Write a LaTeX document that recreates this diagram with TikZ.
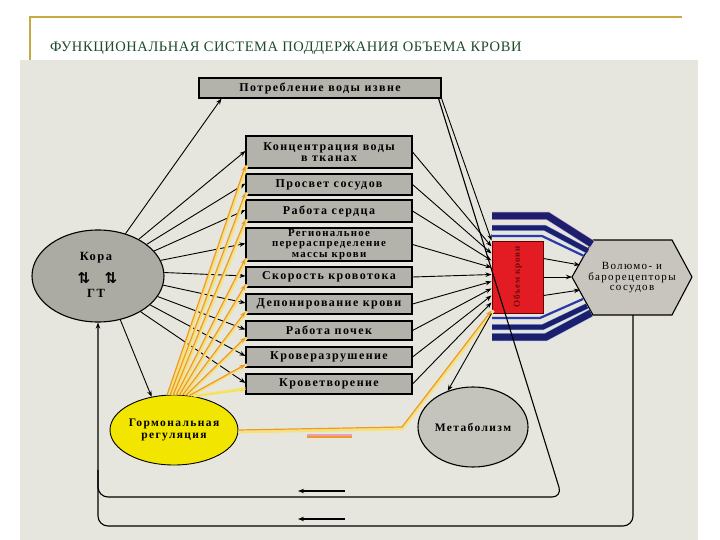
\documentclass[tikz,border=0pt]{standalone}
\usepackage{fontspec}
\setmainfont{Liberation Serif}
\newfontfamily\boxfont{Liberation Serif}[LetterSpace=12]
\newfontfamily\redfont{Liberation Serif}[LetterSpace=10]
\newfontfamily\titlefont{Liberation Serif}[LetterSpace=4]
\newfontfamily\symfont{DejaVu Sans}
\usetikzlibrary{shapes.geometric,arrows.meta,calc}
\definecolor{panel}{HTML}{E6E6DE}
\definecolor{boxgray}{HTML}{B3B3AB}
\definecolor{koragray}{HTML}{ABABA3}
\definecolor{metgray}{HTML}{C4C4BC}
\definecolor{hexgray}{HTML}{C7C5BD}
\definecolor{yelfill}{HTML}{F2E600}
\definecolor{redfill}{HTML}{E31B23}
\definecolor{darkred}{HTML}{6A0A0E}
\definecolor{navy}{HTML}{1C1F6E}
\definecolor{lblue}{HTML}{8FB4E4}
\definecolor{midblue}{HTML}{2A3AA8}
\definecolor{pinkish}{HTML}{E8A0B8}
\definecolor{orangeline}{HTML}{EE9A2A}
\definecolor{paleyel}{HTML}{F6E27A}
\definecolor{titlegreen}{HTML}{1F4A2C}
\definecolor{gold}{HTML}{C8A843}
\tikzset{
  box/.style={draw=black, line width=1.1pt, fill=boxgray, minimum width=166pt, inner sep=0pt, align=center, font=\boxfont\bfseries\fontsize{12}{10.5}\selectfont},
  arr/.style={-{Stealth[length=6pt,width=4.5pt]}, line width=0.9pt},
  org/.style={-{Stealth[length=6pt,width=4.5pt]}, line width=1.2pt, draw=orangeline, color=orangeline},
  orgback/.style={line width=2.8pt, draw=paleyel},
  band/.style={draw=navy, line cap=butt},
}
\begin{document}
\begin{tikzpicture}[x=1pt,y=-1pt]
\useasboundingbox (0,0) rectangle (720,540);
\fill[white] (0,0) rectangle (720,540);
\draw[gold, line width=1.5pt] (30,60) -- (30,17) -- (682,17);
\node[anchor=base west, text=titlegreen, font=\titlefont\fontsize{14.5}{14.5}\selectfont, inner sep=0pt] (title) at (50,52) {ФУНКЦИОНАЛЬНАЯ СИСТЕМА ПОДДЕРЖАНИЯ ОБЪЕМА КРОВИ};
\fill[panel] (20,60) rectangle (698,540);

% boxes
\node[box, minimum width=242pt, minimum height=20pt] (potr) at (320,88) {Потребление воды извне};
\node[box, minimum height=32pt] (conc) at (329,152) {Концентрация воды\\в тканах};
\node[box, minimum height=21pt] (prosv) at (329,184.5) {Просвет сосудов};
\node[box, minimum height=22pt] (serd) at (329,211) {Работа сердца};
\node[box, minimum height=33pt, font=\boxfont\bfseries\fontsize{10.8}{10.3}\selectfont] (reg) at (329,244.5) {Региональное\\перераспределение\\массы крови};
\node[box, minimum height=20pt] (skor) at (329,277) {Скорость кровотока};
\node[box, minimum height=20pt] (depo) at (329,304) {Депонирование крови};
\node[box, minimum height=19pt] (poch) at (329,330.5) {Работа почек};
\node[box, minimum height=20pt] (razr) at (329,357) {Кроверазрушение};
\node[box, minimum height=20pt] (tvor) at (329,384) {Кроветворение};

% Kora
\node[ellipse, draw=black, line width=1.1pt, fill=koragray, minimum width=132pt, minimum height=92pt, inner sep=0pt] (kora) at (98,276) {};
\node[font=\boxfont\bfseries\fontsize{12.5}{12}\selectfont] (kt1) at (96,258) {Кора};
\node[font=\symfont\bfseries\fontsize{15}{15}\selectfont] (kt2) at (84,278) {⇅};
\node[font=\symfont\bfseries\fontsize{15}{15}\selectfont] (kt3) at (111,278) {⇅};
\node[font=\boxfont\bfseries\fontsize{12.5}{12}\selectfont] (kt4) at (96,293) {ГТ};

% Hormonal regulation
\node[ellipse, draw=black, line width=0.9pt, fill=yelfill, minimum width=114pt, minimum height=70pt, inner sep=0pt, align=center, font=\boxfont\bfseries\fontsize{11.5}{12.5}\selectfont] (yel) at (174,430) {Гормональная\\регуляция};

% Metabolism
\node[ellipse, draw=black, line width=1.1pt, fill=metgray, minimum width=110pt, minimum height=80pt, inner sep=0pt, font=\boxfont\bfseries\fontsize{11.5}{10}\selectfont] (met) at (473,427) {Метаболизм};

% Hexagon
\coordinate (hL) at (572,277);
\coordinate (hTL) at (593,240);
\coordinate (hTR) at (672,240);
\coordinate (hR) at (692,277);
\coordinate (hBR) at (672,315);
\coordinate (hBL) at (593,315);
\coordinate (hS) at (633,315);
\draw[line width=1.1pt, fill=hexgray] (hL) -- (hTL) -- (hTR) -- (hR) -- (hBR) -- (hBL) -- cycle;
\node[align=center, font=\boxfont\fontsize{11}{10.5}\selectfont] (hex) at (632,278) {Волюмо- и\\барорецепторы\\сосудов};

% bands
\coordinate (ua1) at (492,216); \coordinate (ub1) at (548,216); \coordinate (uc1) at (592,244);
\coordinate (ua2) at (492,228); \coordinate (ub2) at (545,228); \coordinate (uc2) at (588,251);
\coordinate (ua3) at (492,236); \coordinate (ub3) at (542,236); \coordinate (uc3) at (584,256);
\coordinate (la1) at (492,318); \coordinate (lb1) at (540,318); \coordinate (lc1) at (583,299);
\coordinate (la2) at (492,327); \coordinate (lb2) at (543,327); \coordinate (lc2) at (587,306);
\coordinate (la3) at (492,337); \coordinate (lb3) at (546,337); \coordinate (lc3) at (591,313);
\begin{scope}[yshift=1.5pt]
\draw[lblue, line width=8pt] (ua1) -- (ub1) -- (uc1);
\draw[lblue, line width=6pt] (ua2) -- (ub2) -- (uc2);
\draw[lblue, line width=6pt] (la2) -- (lb2) -- (lc2);
\draw[lblue, line width=8pt] (la3) -- (lb3) -- (lc3);
\end{scope}
\begin{scope}[yshift=-1.5pt]
\draw[pinkish, line width=8pt] (ua1) -- (ub1) -- (uc1);
\draw[pinkish, line width=6pt] (la3) -- (lb3) -- (lc3);
\end{scope}
\draw[band, line width=7pt] (ua1) -- (ub1) -- (uc1);
\draw[band, line width=5pt] (ua2) -- (ub2) -- (uc2);
\draw[draw=midblue, line width=2.2pt] (ua3) -- (ub3) -- (uc3);
\draw[draw=midblue, line width=2.2pt] (la1) -- (lb1) -- (lc1);
\draw[band, line width=5pt] (la2) -- (lb2) -- (lc2);
\draw[band, line width=7pt] (la3) -- (lb3) -- (lc3);

% red volume box
\node[draw=black!60!red, line width=1pt, fill=redfill, minimum width=51pt, minimum height=72pt, inner sep=0pt] (vol) at (517.5,277) {};
\node[rotate=90, text=darkred, font=\redfont\bfseries\fontsize{9}{9}\selectfont] (voltext) at (vol.center) {Объем крови};

% Kora -> boxes
\draw[arr] (kora.57) -- ([xshift=23pt]potr.south west);
\foreach \a/\b in {42/conc, 33/prosv, 24/serd, 14/reg, 3/skor, -8/depo, -19/poch, -29/razr, -40/tvor}
  \draw[arr] (kora.\a) -- ([yshift=1pt]\b.west);
\draw[arr] (kora.-63) -- (yel.124);

% Hormonal -> boxes (orange)
\foreach \a/\b in {101/conc, 96/prosv, 91/serd, 86/reg, 81/skor, 76/depo, 71/poch, 66/razr}{
  \draw[orgback] ([xshift=1.5pt]yel.\a) -- ([xshift=1.5pt,yshift=3pt]\b.south west);
  \draw[org] (yel.\a) -- ([yshift=3pt]\b.south west);
}
\draw[orgback] (yel.60) -- ([yshift=6pt]tvor.south west);
\draw[org, draw=paleyel!60!yelfill, color=paleyel!60!yelfill] (yel.60) -- ([yshift=5pt]tvor.south west);

% boxes -> volume
\draw[arr] (potr.south east) -- (vol.north west);
\foreach \b/\s in {conc/-6, prosv/-13, serd/-20, reg/-27, skor/-34, depo/-41, poch/-48, razr/-55, tvor/-62}
  \draw[arr] (\b.east) -- ([yshift=\s pt]vol.north west);
\coordinate (obend) at (402,427);
\draw[orgback] ([yshift=-2pt]yel.east) -- ([yshift=-2pt]obend) -- ([xshift=2pt,yshift=-70pt]vol.north west);
\draw[org] (yel.east) -- (obend) -- ([yshift=-70pt]vol.north west);

% volume -> receptors, metabolism
\draw[arr] ([yshift=-18pt]vol.north east) -- (580,265);
\draw[arr] (vol.east) -- (hL);
\draw[arr] ([yshift=18pt]vol.south east) -- (580,290);
\draw[arr] (vol.south west) -- (met.125);

% feedback loops
\draw[line width=1.1pt, rounded corners=10pt] ([xshift=-3pt]potr.south east) -- (562,497) -- (98,497) -- (98,470);
\draw[arr, line width=1.1pt, rounded corners=10pt] (hS) -- (633,526) -- (98,526) -- (kora.south);

% direction marks
\coordinate (m1a) at (345,491); \coordinate (m1b) at (298,491);
\coordinate (m2a) at (345,519); \coordinate (m2b) at (298,519);
\draw[arr, line width=1.4pt] (m1a) -- (m1b);
\draw[arr, line width=1.4pt] (m2a) -- (m2b);
\coordinate (m3a) at (307,437); \coordinate (m3b) at (352,437);
\draw[pinkish, line width=3pt] ([yshift=1.5pt]m3a) -- ([yshift=1.5pt]m3b);
\draw[orangeline, line width=2.5pt] (m3a) -- (m3b);
\end{tikzpicture}
\end{document}
